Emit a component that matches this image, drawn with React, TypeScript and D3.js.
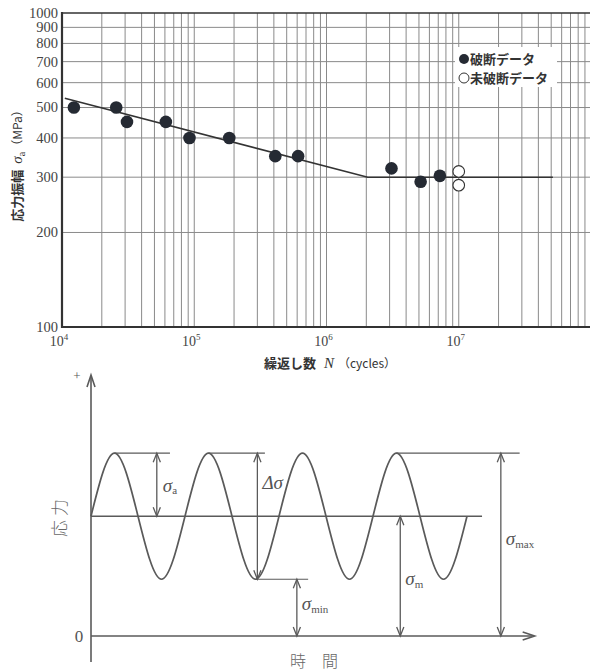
import React from "react";
import * as d3 from "d3";

// ---------- S-N chart data ----------
const yTickValues = [100, 200, 300, 400, 500, 600, 700, 800, 900, 1000];
const yGridValues = [200, 300, 400, 500, 600, 700, 800, 900];
const xTickExponents = [4, 5, 6, 7];
const brokenN = [1.23e4, 2.57e4, 3.1e4, 6.1e4, 9.2e4, 1.84e5, 4.1e5, 6.1e5, 3.1e6, 5.15e6, 7.2e6];
const brokenS = [500, 500, 450, 450, 400, 400, 350, 350, 320, 290, 303];
const unbrokenN = [1e7, 1e7];
const unbrokenS = [313, 283];
const curveN = [1.05e4, 2.05e6, 5.15e7];
const curveS = [535, 300, 300];
const legendLabels = ["破断データ", "未破断データ"];

// ---------- schematic stress-time data ----------
const sigmaMean = 1.9;
const sigmaAmp = 1.0;
const waveT = [0, 0.25, 0.5, 0.75, 1, 1.25, 1.5, 1.75, 2, 2.25, 2.5, 2.75, 3, 3.25, 3.5, 3.75, 4];
const wavePhase = [0, 1, 0, -1, 0, 1, 0, -1, 0, 1, 0, -1, 0, 1, 0, -1, 0];

const serif = "'Liberation Serif', 'DejaVu Serif', serif";
const jp = "'Noto Sans CJK JP', sans-serif";

export default function App() {
  // S-N chart scales
  const x = d3.scaleLog().domain([1e4, 1e8]).range([62, 591]);
  const y = d3.scaleLog().domain([100, 1000]).range([327, 13]);

  const xGrid: number[] = [];
  for (let e = 4; e < 8; e++) for (let m = 1; m <= 9; m++) xGrid.push(m * Math.pow(10, e));

  const lineGen = d3
    .line<number>()
    .x((_, i) => x(curveN[i]))
    .y((d) => y(d));

  // schematic scales
  const tx = d3.scaleLinear().domain([0, 4]).range([91, 467]);
  const sy = d3.scaleLinear().domain([0, 4.14]).range([636, 375]);
  const waveGen = d3
    .line<number>()
    .x((t) => tx(t))
    .y((_, i) => sy(sigmaMean + sigmaAmp * wavePhase[i]))
    .curve(d3.curveNatural);

  const sMax = sigmaMean + sigmaAmp;
  const sMin = sigmaMean - sigmaAmp;
  const gray = "#5a5a5a";

  const arrowHead = (px: number, py: number, dir: number) => {
    // dir: -1 pointing up, 1 pointing down
    const L = 9, W = 3.6;
    return `M${px - W},${py - dir * L}L${px},${py}L${px + W},${py - dir * L}`;
  };
  const vArrow = (t: number, s1: number, s2: number, both: boolean) => {
    const X = tx(t);
    const y1 = sy(s1), y2 = sy(s2);
    const top = Math.min(y1, y2), bot = Math.max(y1, y2);
    return (
      <g stroke={gray} strokeWidth={1.3} fill="none">
        <line x1={X} x2={X} y1={top} y2={bot} />
        <path d={arrowHead(X, top, -1)} />
        {both && <path d={arrowHead(X, bot, 1)} />}
      </g>
    );
  };

  return (
    <svg width={590} height={671} style={{ position: "absolute", left: 0, top: 0, background: "#fff" }}>
      {/* ===== S-N chart ===== */}
      <g>
        {xGrid.map((v, i) => (
          <line key={"xg" + i} x1={x(v)} x2={x(v)} y1={13} y2={327} stroke="#8a8a8a" strokeWidth={1} />
        ))}
        {yGridValues.map((v) => (
          <line key={"yg" + v} x1={62} x2={590} y1={y(v)} y2={y(v)} stroke="#8a8a8a" strokeWidth={1} />
        ))}
        {/* legend box */}
        <rect x={455} y={47} width={102} height={40} fill="#fff" />
        {/* frame */}
        <line x1={62} x2={590} y1={13} y2={13} stroke="#333" strokeWidth={1.6} />
        <line x1={62} x2={590} y1={327} y2={327} stroke="#333" strokeWidth={2.2} />
        <line x1={62} x2={62} y1={12} y2={328} stroke="#333" strokeWidth={2.2} />

        {/* S-N curve */}
        <path d={lineGen(curveS) || ""} fill="none" stroke="#333" strokeWidth={1.6} />

        {brokenN.map((n, i) => (
          <circle key={"b" + i} cx={x(n)} cy={y(brokenS[i])} r={6.3} fill="#252a33" />
        ))}
        {unbrokenN.map((n, i) => (
          <circle key={"u" + i} cx={x(n)} cy={y(unbrokenS[i])} r={5.8} fill="#fff" stroke="#333" strokeWidth={1.1} />
        ))}

        {/* y tick labels */}
        {yTickValues.map((v) => (
          <text key={"yt" + v} x={58} y={y(v)} dy="0.34em" textAnchor="end" fontFamily={serif} fontSize={14.5} fill="#444">
            {v}
          </text>
        ))}
        {/* x tick labels */}
        {xTickExponents.map((e) => (
          <text key={"xt" + e} x={x(Math.pow(10, e)) - 3} y={346} textAnchor="middle" fontFamily={serif} fontSize={14} fill="#444">
            10
            <tspan dy={-6} fontSize={9}>
              {e}
            </tspan>
          </text>
        ))}

        {/* legend */}
        <circle cx={464} cy={59} r={5} fill="#252a33" />
        <text x={470} y={64} fontFamily={jp} fontSize={13} fontWeight={700} fill="#333">
          {legendLabels[0]}
        </text>
        <circle cx={464} cy={78} r={5} fill="#fff" stroke="#333" strokeWidth={1} />
        <text x={470} y={83} fontFamily={jp} fontSize={13} fontWeight={700} fill="#333">
          {legendLabels[1]}
        </text>

        {/* axis titles */}
        <text transform="translate(22,163) rotate(-90)" textAnchor="middle" fontSize={13} fill="#333">
          <tspan fontFamily={jp} fontWeight={700}>応力振幅</tspan>
          <tspan fontFamily={serif} fontStyle="italic" fontSize={15} dx={6}>σ</tspan>
          <tspan fontFamily={serif} fontSize={10} dy={3}>a</tspan>
          <tspan fontFamily={jp} fontSize={12} dy={-3}>（MPa）</tspan>
        </text>
        <text x={330} y={368} textAnchor="middle" fontSize={13} fill="#333">
          <tspan fontFamily={jp} fontWeight={700}>繰返し数</tspan>
          <tspan fontFamily={serif} fontStyle="italic" fontSize={15} dx={8}>N</tspan>
          <tspan fontFamily={jp} fontSize={12} dx={4}>（cycles）</tspan>
        </text>
      </g>

      {/* ===== stress-time schematic ===== */}
      <g>
        {/* axes */}
        <line x1={tx(0)} x2={tx(0)} y1={sy(4.14) + 2} y2={662} stroke={gray} strokeWidth={1.6} />
        <path d={`M${tx(0) - 4},${sy(4.14) + 12}L${tx(0)},${sy(4.14)}L${tx(0) + 4},${sy(4.14) + 12}`} fill="none" stroke={gray} strokeWidth={1.6} />
        <line x1={tx(0)} x2={tx(4.72) - 2} y1={sy(0)} y2={sy(0)} stroke={gray} strokeWidth={1.6} />
        <path d={`M${tx(4.72) - 12},${sy(0) - 4}L${tx(4.72)},${sy(0)}L${tx(4.72) - 12},${sy(0) + 4}`} fill="none" stroke={gray} strokeWidth={1.6} />
        {/* mean line */}
        <line x1={tx(0)} x2={tx(4.16)} y1={sy(sigmaMean)} y2={sy(sigmaMean)} stroke={gray} strokeWidth={1.5} />

        {/* reference lines */}
        <g stroke={gray} strokeWidth={1.2}>
          <line x1={tx(0.25)} x2={tx(0.84)} y1={sy(sMax)} y2={sy(sMax)} />
          <line x1={tx(1.25)} x2={tx(1.85)} y1={sy(sMax)} y2={sy(sMax)} />
          <line x1={tx(1.75)} x2={tx(2.31)} y1={sy(sMin)} y2={sy(sMin)} />
          <line x1={tx(3.25)} x2={tx(4.56)} y1={sy(sMax)} y2={sy(sMax)} />
        </g>

        {/* wave */}
        <path d={waveGen(waveT) || ""} fill="none" stroke={gray} strokeWidth={1.7} />

        {/* dimension arrows */}
        {vArrow(0.7, sMax, sigmaMean, true)}
        {vArrow(1.77, sMax, sMin, true)}
        {vArrow(2.19, sMin, 0, true)}
        {vArrow(3.29, sigmaMean, 0, true)}
        {vArrow(4.36, sMax, 0, true)}

        {/* labels */}
        <g fill="#555" fontFamily={serif}>
          <text x={tx(0.7) + 6} y={492}>
            <tspan fontStyle="italic" fontSize={19}>σ</tspan>
            <tspan fontSize={11} dy={2}>a</tspan>
          </text>
          <text x={tx(1.77) + 5} y={489} fontStyle="italic" fontSize={19}>
            Δσ
          </text>
          <text x={tx(2.19) + 5} y={610}>
            <tspan fontStyle="italic" fontSize={19}>σ</tspan>
            <tspan fontSize={11} dy={3}>min</tspan>
          </text>
          <text x={tx(3.29) + 5} y={585}>
            <tspan fontStyle="italic" fontSize={19}>σ</tspan>
            <tspan fontSize={11} dy={3}>m</tspan>
          </text>
          <text x={tx(4.36) + 5} y={545}>
            <tspan fontStyle="italic" fontSize={19}>σ</tspan>
            <tspan fontSize={11} dy={3}>max</tspan>
          </text>
          <text x={77} y={380} fontSize={13} textAnchor="middle">+</text>
          <text x={79} y={642} fontSize={17} textAnchor="middle">0</text>
        </g>
        <text transform="translate(66,518) rotate(-90)" textAnchor="middle" fontFamily={jp} fontWeight={300} fontSize={17} fill="#666">
          応 力
        </text>
        <text x={314} y={667} textAnchor="middle" fontFamily={jp} fontWeight={300} fontSize={16} fill="#666">
          時　間
        </text>
      </g>
    </svg>
  );
}
